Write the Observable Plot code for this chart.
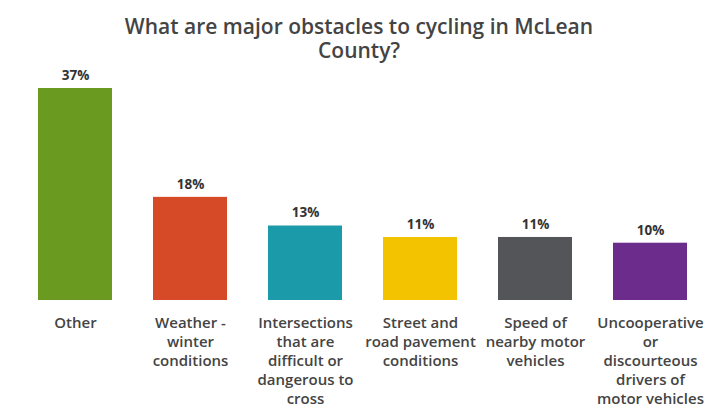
<!DOCTYPE html>
<html><head><meta charset="utf-8">
<script src="https://cdn.jsdelivr.net/npm/d3@7"></script>
<script src="https://cdn.jsdelivr.net/npm/@observablehq/plot@0.6"></script>
<style>
body{margin:0;background:#fff;font-family:"Open Sans",sans-serif;}
#title{height:48px;box-sizing:border-box;padding-top:14px;text-align:center;font-size:21px;font-weight:600;color:#444;line-height:24px;width:718px;overflow:visible;position:relative;z-index:1;}
#chart{position:relative;}
</style></head>
<body>
<div id="title">What are major obstacles to cycling in McLean<br>County?</div>
<div id="chart"></div>
<script>
const categories = ["Other","Weather -\nwinter\nconditions","Intersections\nthat are\ndifficult or\ndangerous to\ncross","Street and\nroad pavement\nconditions","Speed of\nnearby motor\nvehicles","Uncooperative\nor\ndiscourteous\ndrivers of\nmotor vehicles"];
const values = [37, 18, 13, 11, 11, 10];
const valueLabels = ["37%","18%","13%","11%","11%","10%"];
const colors = ["#6b9a20","#d64a27","#1b9aaa","#f4c300","#545559","#6b2c8b"];
const data = categories.map((c,i)=>({c, v: values[i], label: valueLabels[i], color: colors[i]}));
const chart = Plot.plot({
  width: 718, height: 361,
  marginLeft: 17.5, marginRight: 10.5, marginTop: 40, marginBottom: 109,
  style: {fontFamily: "Open Sans, sans-serif", background: "transparent", overflow: "visible"},
  x: {domain: categories, paddingInner: 0.36, paddingOuter: 0.18, label: null},
  y: {domain: [0, 37], axis: null},
  marks: [
    Plot.barY(data, {x: "c", y: "v", fill: "color"}),
    Plot.text(data, {x: "c", y: "v", text: "label", dy: -13, fontSize: 13.5, fontWeight: 700, fill: "#333"}),
    Plot.axisX({tickSize: 0, tickPadding: 14, fontSize: 15, fontWeight: 600, fill: "#444", lineHeight: 1.27, lineAnchor: "top", label: null})
  ]
});
document.getElementById("chart").appendChild(chart);
</script>
</body></html>
